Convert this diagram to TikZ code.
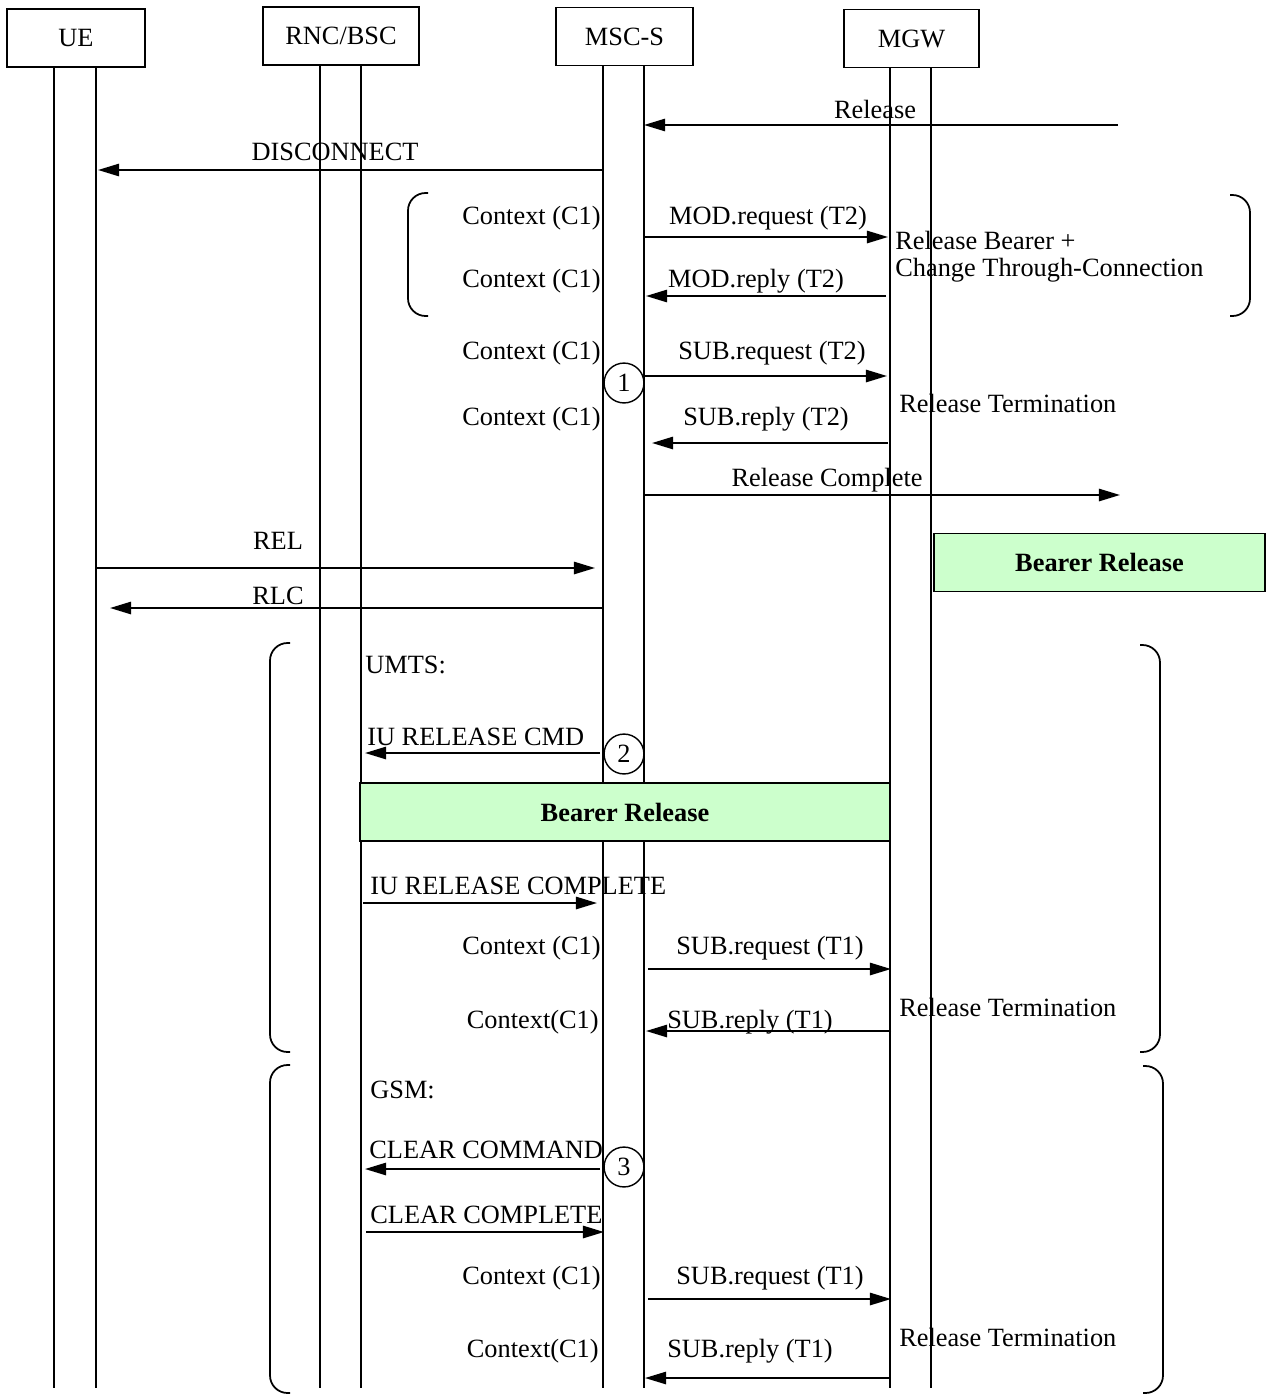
\documentclass[tikz,border=0pt]{standalone}
\usepackage{fontspec}
\setmainfont{Liberation Serif}
\usepackage{tikz}
\usetikzlibrary{arrows.meta,positioning}

\begin{document}
\begin{tikzpicture}[x=0.02cm, y=-0.02cm,
    every node/.style={font=\fontsize{15}{17}\selectfont},
    actor/.style={draw, line width=1pt, fill=white, minimum height=32.9pt, inner sep=0pt},
    life/.style={line width=0.8pt},
    msg/.style={line width=1.1pt, -{Triangle[length=12pt, width=7pt]}},
    lbl/.style={inner sep=0pt},
    bearer/.style={draw, line width=1pt, fill=green!20, minimum height=33pt, inner sep=0pt, font=\fontsize{15}{17}\selectfont\bfseries},
    stepno/.style={draw, circle, line width=0.8pt, fill=white, minimum size=22.7pt, inner sep=0pt},
    brk/.style={line width=1pt, rounded corners=10pt}]
    \useasboundingbox (0,0) rectangle (1267,1396);

    % lifelines
    \foreach \x in {54,96,320,361,603,644,890,931}
        \draw[life] (\x,60) -- (\x,1388);

    % entities
    \node[actor, minimum width=78.2pt] (ue) at (76,38) {UE};
    \node[actor, minimum width=88.4pt] (rnc) at (341,36) {RNC/BSC};
    \node[actor, minimum width=77.7pt] (msc) at (624.5,36.5) {MSC-S};
    \node[actor, minimum width=76.5pt] (mgw) at (911.5,38.5) {MGW};

    % brackets
    \draw[brk] (428,193) -- (408,193) -- (408,316) -- (428,316);
    \draw[brk] (1230,195) -- (1250,195) -- (1250,316) -- (1230,316);
    \draw[brk] (290,643) -- (270,643) -- (270,1052) -- (290,1052);
    \draw[brk] (1140,645) -- (1160,645) -- (1160,1052) -- (1140,1052);
    \draw[brk] (290,1065) -- (270,1065) -- (270,1393) -- (290,1393);
    \draw[brk] (1143,1066) -- (1163,1066) -- (1163,1393) -- (1143,1393);

    % messages
    \foreach \n/\xa/\xb/\y in {rel/1118/644/125, disc/603/98/170,
        modreq/644/888/237, modrep/886/646/296,
        subreqa/644/887/376, subrepa/888/652/443, relc/644/1120/495,
        isup/96/595/568, rlc/603/110/608,
        iucmd/600/365/753, iucpl/363/597/903,
        subreqb/648/891/969, subrepb/891/646/1031,
        clrcmd/600/365/1169, clrcpl/366/604/1232,
        subreqc/648/891/1299, subrepc/889/645/1378} {
        \coordinate (\n-s) at (\xa,\y);
        \coordinate (\n-e) at (\xb,\y);
        \draw[msg] (\n-s) -- (\n-e);
    }

    % message labels
    \node[lbl] (lrel) at (875,109) {Release};
    \node[lbl] (ldisc) at (335,152) {DISCONNECT};
    \node[lbl, anchor=east] (ctx1) at (601,218) {Context (C1)};
    \node[lbl] (lmodreq) at (768,218) {MOD.request (T2)};
    \node[lbl, anchor=west] (rb1) at (895,240) {Release Bearer +};
    \node[lbl, anchor=west] (rb2) at (895,270) {Change Through-Connection};
    \node[lbl, anchor=east] (ctx2) at (601,281) {Context (C1)};
    \node[lbl] (lmodrep) at (756,281) {MOD.reply (T2)};
    \node[lbl, anchor=east] (ctx3) at (601,353) {Context (C1)};
    \node[lbl] (lsubreqa) at (772,353) {SUB.request (T2)};
    \node[lbl, anchor=west] (rt1) at (899,403) {Release Termination};
    \node[lbl, anchor=east] (ctx4) at (601,419) {Context (C1)};
    \node[lbl] (lsubrepa) at (766,419) {SUB.reply (T2)};
    \node[lbl] (lrelc) at (827,480) {Release Complete};
    \node[lbl] (lisup) at (278,541) {REL};
    \node[lbl] (lrlc) at (278,596) {RLC};

    \node[lbl, anchor=west] (umts) at (365,665) {UMTS:};
    \node[lbl, anchor=west] (liucmd) at (367,737) {IU RELEASE CMD};
    \node[lbl, anchor=west] (liucpl) at (370,886) {IU RELEASE COMPLETE};
    \node[lbl, anchor=east] (ctx5) at (601,948) {Context (C1)};
    \node[lbl] (lsubreqb) at (770,948) {SUB.request (T1)};
    \node[lbl, anchor=west] (rt2) at (899,1007) {Release Termination};
    \node[lbl, anchor=east] (ctx6) at (599,1022) {Context(C1)};
    \node[lbl] (lsubrepb) at (750,1022) {SUB.reply (T1)};

    \node[lbl, anchor=west] (gsm) at (370,1090) {GSM:};
    \node[lbl, anchor=west] (lclrcmd) at (369,1150) {CLEAR COMMAND};
    \node[lbl, anchor=west] (lclrcpl) at (370,1215) {CLEAR COMPLETE};
    \node[lbl, anchor=east] (ctx7) at (601,1278) {Context (C1)};
    \node[lbl] (lsubreqc) at (770,1278) {SUB.request (T1)};
    \node[lbl, anchor=west] (rt3) at (899,1337) {Release Termination};
    \node[lbl, anchor=east] (ctx8) at (599,1351) {Context(C1)};
    \node[lbl] (lsubrepc) at (750,1351) {SUB.reply (T1)};

    % bearer release boxes
    \node[bearer, minimum width=188.8pt] (br1) at (1099.5,562.5) {Bearer Release};
    \node[bearer, minimum width=301.6pt] (br2) at (625,812) {Bearer Release};

    % step markers
    \node[stepno] (s1) at (624,383) {1};
    \node[stepno] (s2) at (624,754) {2};
    \node[stepno] (s3) at (624,1167) {3};
\end{tikzpicture}
\end{document}
